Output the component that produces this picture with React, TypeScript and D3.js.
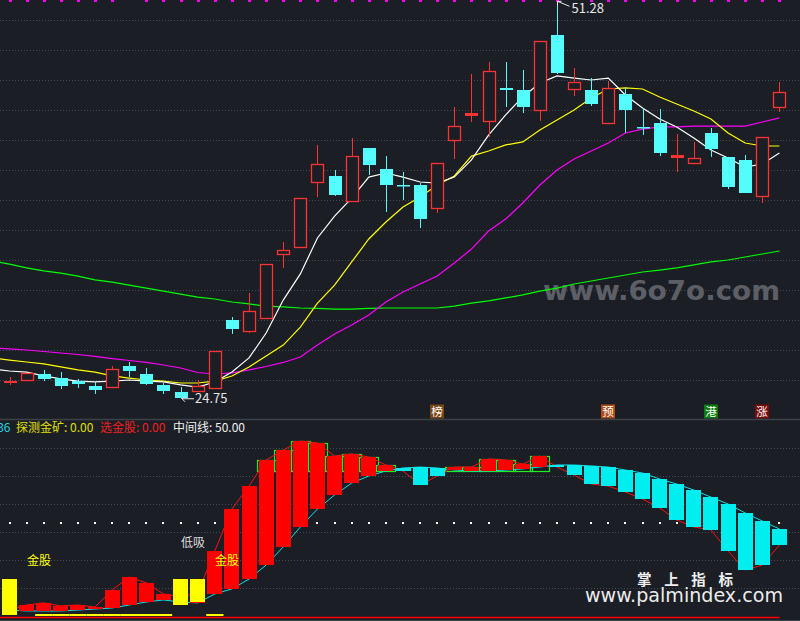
import React from 'react';
import * as d3 from 'd3';

const W = 800;
const H = 621;

// ---- price candles (46 sessions) ----
const opens = [25.88, 26.0, 26.4, 26.13, 25.93, 25.6, 25.53, 26.93, 26.4, 25.67, 25.2, 25.27, 25.47, 30.0, 29.27, 30.13, 34.4, 34.87, 39.2, 39.6, 37.93, 41.47, 40.07, 39.0, 39.0, 37.47, 42.0, 43.67, 43.27, 45.47, 45.33, 44.0, 49.0, 45.4, 45.33, 43.13, 45.07, 42.87, 43.13, 40.87, 40.47, 42.47, 40.87, 40.67, 38.27, 44.2];
const highs = [26.2, 26.47, 26.67, 26.53, 26.07, 25.87, 26.93, 27.2, 26.8, 25.8, 25.53, 26.0, 27.93, 30.2, 31.8, 33.73, 35.2, 38.13, 41.67, 40.0, 42.13, 41.47, 40.93, 39.87, 39.13, 40.47, 44.2, 46.4, 47.2, 47.2, 46.67, 48.6, 51.28, 46.8, 46.13, 45.93, 45.47, 44.13, 44.07, 42.4, 41.87, 42.8, 40.87, 41.0, 42.2, 45.87];
const lows = [25.67, 25.93, 25.93, 25.4, 25.47, 25.07, 25.53, 26.2, 25.67, 25.07, 24.75, 25.2, 25.47, 29.07, 29.13, 30.13, 33.47, 34.87, 38.2, 38.27, 37.93, 39.67, 37.2, 38.0, 36.13, 37.13, 40.73, 43.2, 42.2, 44.2, 43.8, 43.27, 46.4, 44.93, 44.27, 43.13, 42.47, 42.33, 40.93, 39.87, 40.47, 40.87, 38.73, 38.47, 37.8, 43.87];
const closes = [25.92, 26.47, 26.07, 25.6, 25.73, 25.33, 26.73, 26.6, 25.73, 25.27, 24.8, 25.6, 27.93, 29.4, 30.6, 33.73, 34.67, 38.13, 40.4, 38.33, 40.93, 40.33, 39.0, 38.97, 36.73, 40.47, 42.93, 43.8, 46.6, 45.33, 44.2, 48.6, 46.47, 45.87, 44.4, 45.47, 44.0, 42.83, 41.13, 41.0, 40.8, 41.4, 38.87, 38.47, 42.2, 45.2];

// moving averages, first value belongs to the session before index 0
const maWhite = [26.73, 26.6, 26.53, 26.27, 26.07, 25.93, 25.87, 25.93, 26.0, 25.93, 25.87, 25.67, 25.53, 25.87, 26.53, 27.47, 29.13, 31.33, 33.07, 35.47, 36.93, 38.13, 39.53, 39.8, 39.53, 39.2, 39.13, 39.53, 40.67, 42.33, 43.67, 44.87, 45.8, 46.27, 46.13, 46.0, 46.13, 45.0, 44.13, 43.4, 42.87, 42.13, 41.33, 40.8, 40.2, 40.4, 41.13];
const maYellow = [27.47, 27.33, 27.2, 27.07, 26.87, 26.67, 26.53, 26.27, 26.13, 26.0, 25.93, 25.8, 25.8, 25.93, 26.27, 26.87, 27.6, 28.33, 29.53, 31.13, 32.33, 33.87, 35.4, 36.53, 37.53, 38.2, 39.0, 39.6, 40.93, 41.27, 41.67, 41.87, 42.67, 43.33, 44.0, 44.8, 45.4, 45.47, 45.4, 44.87, 44.4, 43.93, 43.4, 42.47, 41.8, 41.6, 41.6];
const maMagenta = [28.13, 28.07, 28.0, 27.9, 27.8, 27.7, 27.57, 27.43, 27.3, 27.17, 27.0, 26.8, 26.5, 26.4, 26.47, 26.67, 26.9, 27.17, 27.53, 28.33, 29.07, 29.67, 30.33, 31.2, 31.87, 32.4, 32.93, 33.8, 34.73, 35.93, 36.73, 37.8, 39.0, 40.0, 40.73, 41.27, 41.8, 42.47, 42.73, 42.87, 42.87, 42.93, 42.93, 42.93, 42.93, 43.2, 43.47];
const maGreen = [33.93, 33.73, 33.47, 33.27, 33.13, 32.93, 32.67, 32.53, 32.33, 32.13, 31.93, 31.73, 31.53, 31.4, 31.2, 31.07, 30.93, 30.87, 30.8, 30.77, 30.73, 30.73, 30.77, 30.8, 30.8, 30.8, 30.8, 30.93, 31.13, 31.27, 31.47, 31.67, 31.93, 32.13, 32.4, 32.6, 32.8, 33.0, 33.2, 33.33, 33.47, 33.67, 33.87, 34.0, 34.2, 34.4, 34.6];

const priceTicks = [26, 28, 30, 32, 34, 36, 38, 40, 42, 44, 46, 48, 50];
const missingTopDots = [7, 33];

// signal tags above the separator
const tagIndex = [25, 35, 41, 44];
const tagText = ['榜', '预', '港', '涨'];
const tagColor = ['#7a4512', '#b04c14', '#0b7a0b', '#7a0c0c'];

// ---- indicator panel ----
const indA = [3.5, 5.9, 7.0, 5.4, 5.9, 4.8, 13.9, 20.9, 17.7, 11.8, 10.2, 12.3, 34.8, 57.3, 69.6, 83.6, 88.9, 93.7, 92.7, 85.7, 86.8, 85.2, 80.9, 77.7, 70.2, 75.0, 79.8, 79.8, 84.1, 83.6, 81.4, 85.7, 79.8, 75.5, 70.7, 69.6, 66.4, 62.7, 57.9, 51.4, 47.7, 46.1, 34.8, 24.6, 27.3, 38.0];
const indB = [3.2, 2.7, 2.7, 2.7, 3.2, 3.75, 4.3, 5.9, 7.5, 8.6, 7.5, 7.0, 11.8, 14.5, 19.8, 27.3, 37.0, 47.7, 57.3, 64.8, 71.2, 75.0, 77.7, 79.3, 79.8, 79.3, 78.2, 77.7, 77.7, 78.2, 78.8, 79.8, 80.9, 80.9, 80.4, 79.8, 78.2, 76.6, 73.4, 70.7, 67.5, 63.7, 60.0, 55.2, 50.9, 46.6];
const goldIndex = [0, 10, 11];
const goldLow = [0.5, 5.9, 7.5];
const goldTop = 20;
const baseSignalIndex = [2, 3, 4, 5, 6, 7, 8, 9, 12];
const indTicks = [15, 30, 45, 60, 75, 90];
const greenLevel = 77.5;
const midLevel = 50;

const BG = '#1b1e25';
const GRID = '#454954';
const RED = '#ff3232';
const CYAN = '#54fcfc';
const CJK = '"Noto Sans CJK SC", "Noto Sans", sans-serif';

export default function App() {
  const x = d3.scaleLinear().domain([0, 45]).range([9.5, 779.4]);
  const yP = d3.scaleLinear().domain([50, 26]).range([20, 380]);
  const yI = d3.scaleLinear().domain([0, 90]).range([616, 448]);

  const maLine = d3
    .line<number>()
    .x((_, i) => x(i - 1))
    .y((d) => yP(d));
  const indLineA = d3
    .line<number>()
    .x((_, i) => x(i))
    .y((d) => yI(d));

  const candles = opens.map((o, i) => {
    const c = closes[i];
    const up = c >= o;
    const cx = Math.round(x(i));
    const top = yP(Math.max(o, c));
    const bot = yP(Math.min(o, c));
    const hy = yP(highs[i]);
    const ly = yP(lows[i]);
    const color = up ? RED : CYAN;
    const h = bot - top;
    if (up) {
      if (h < 2.5) {
        return (
          <g key={i}>
            <line x1={cx + 0.5} x2={cx + 0.5} y1={hy} y2={ly} stroke={color} />
            <rect x={cx - 6} y={Math.round(top)} width={13} height={Math.max(2, Math.round(h) + 1)} fill={color} />
          </g>
        );
      }
      return (
        <g key={i}>
          <line x1={cx + 0.5} x2={cx + 0.5} y1={hy} y2={top} stroke={color} />
          <line x1={cx + 0.5} x2={cx + 0.5} y1={bot} y2={ly} stroke={color} />
          <rect x={cx - 6 + 0.5} y={Math.round(top) + 0.5} width={12} height={Math.round(h)} fill={BG} stroke={color} strokeWidth={1.3} />
        </g>
      );
    }
    return (
      <g key={i}>
        <line x1={cx + 0.5} x2={cx + 0.5} y1={hy} y2={ly} stroke={color} />
        <rect x={cx - 6} y={Math.round(top)} width={13} height={Math.max(1.5, Math.round(h))} fill={color} />
      </g>
    );
  });

  const hiIdx = highs.indexOf(Math.max(...highs));
  const loIdx = lows.indexOf(Math.min(...lows));
  const hx = Math.round(x(hiIdx)) + 0.5;
  const hy = yP(highs[hiIdx]);
  const lx = Math.round(x(loIdx));
  const ly = yP(lows[loIdx]);

  const barW = 15;

  return (
    <div style={{ position: 'absolute', left: 0, top: 0, width: W, height: H }}>
      <svg width={W} height={H} viewBox={`0 0 ${W} ${H}`} style={{ display: 'block' }}>
        <rect x={0} y={0} width={W} height={H} fill={BG} />

        {/* price grid */}
        {priceTicks.map((t) => (
          <line key={t} x1={0} x2={W} y1={Math.round(yP(t)) + 0.5} y2={Math.round(yP(t)) + 0.5} stroke={GRID} strokeDasharray="1 2" />
        ))}

        {/* watermark */}
        <text x={543} y={300} fill="#5c5f66" fontFamily='"DejaVu Sans", sans-serif' fontWeight="bold" fontSize={27} textLength={237} lengthAdjust="spacingAndGlyphs">
          www.6o7o.com
        </text>

        {/* moving averages */}
        <path d={maLine(maGreen) || ''} fill="none" stroke="#00ff00" strokeWidth={1.2} />
        <path d={maLine(maMagenta) || ''} fill="none" stroke="#ff00ff" strokeWidth={1.2} />
        <path d={maLine(maYellow) || ''} fill="none" stroke="#ffff00" strokeWidth={1.2} />
        <path d={maLine(maWhite) || ''} fill="none" stroke="#ffffff" strokeWidth={1.2} />

        {candles}

        {/* top magenta dots */}
        {opens.map((_, i) =>
          missingTopDots.includes(i) ? null : (
            <rect key={'m' + i} x={Math.round(x(i)) - 1} y={0} width={3} height={2} fill="#ff00ff" />
          )
        )}

        {/* high / low labels */}
        <path d={`M${hx},${hy + 0.5} L${hx + 12},${hy + 5.5} M${hx},${hy + 0.5} L${hx + 4},${hy + 0.5} M${hx},${hy + 0.5} L${hx},${hy + 4.5}`} stroke="#e8e8e8" fill="none" strokeWidth={1} />
        <text x={hx + 14} y={12.5} fill="#e6e6e6" fontFamily={CJK} fontSize={13}>
          {highs[hiIdx].toFixed(2)}
        </text>
        <path d={`M${lx + 1},${ly} L${lx + 13},${ly} M${lx + 1},${ly} L${lx + 4},${ly - 3} M${lx + 1},${ly} L${lx + 4},${ly + 3}`} stroke="#e8e8e8" fill="none" strokeWidth={1} />
        <text x={lx + 14} y={ly + 4.5} fill="#e6e6e6" fontFamily={CJK} fontSize={13}>
          {lows[loIdx].toFixed(2)}
        </text>

        {/* tags */}
        {tagIndex.map((ti, k) => {
          const cx = Math.round(x(ti));
          return (
            <g key={'t' + k}>
              <rect x={cx - 7} y={404.5} width={14} height={14} fill={tagColor[k]} />
              <text x={cx} y={415.5} textAnchor="middle" fill="#ffffff" fontFamily={CJK} fontSize={11.5}>
                {tagText[k]}
              </text>
            </g>
          );
        })}

        {/* separator */}
        <line x1={0} x2={W} y1={419.5} y2={419.5} stroke="#3d414a" strokeWidth={1.5} />

        {/* indicator legend */}
        <text y={432} fontFamily={CJK} fontSize={12}>
          <tspan x={10.5} textAnchor="end" fill="#22d4e0">36</tspan>
        </text>
        <text x={16} y={432} fontFamily={CJK} fontSize={12} fill="#e0e000">探测金矿: 0.00</text>
        <text x={100} y={432} fontFamily={CJK} fontSize={12} fill="#f02020">选金股: 0.00</text>
        <text x={173} y={432} fontFamily={CJK} fontSize={12} fill="#f0f0f0">中间线: 50.00</text>

        {/* indicator grid */}
        {indTicks.map((t) => (
          <line key={'g' + t} x1={0} x2={W} y1={Math.round(yI(t)) + 0.5} y2={Math.round(yI(t)) + 0.5} stroke={GRID} strokeDasharray="1 2" />
        ))}
        {indA.map((_, i) => (
          <rect key={'d' + i} x={Math.round(x(i)) - 1} y={Math.round(yI(midLevel)) - 1} width={2} height={2} fill="#ffffff" />
        ))}

        {/* green frames above the level */}
        {indA.map((a, i) => {
          const b = indB[i];
          if (!(a > b && a > greenLevel)) return null;
          const cx = x(i);
          return (
            <rect key={'gf' + i} x={Math.round(cx - 9.5) + 0.5} y={Math.round(yI(a)) + 0.5} width={19} height={Math.round(yI(greenLevel) - yI(a))} fill="none" stroke="#22ee22" strokeWidth={1.2} />
          );
        })}

        {/* thin lines */}
        <path d={indLineA(indA) || ''} fill="none" stroke="#ff1010" strokeWidth={1} />
        <path d={indLineA(indB) || ''} fill="none" stroke="#10e0e8" strokeWidth={1} />

        {/* bars */}
        {indA.map((a, i) => {
          const b = indB[i];
          const top = yI(Math.max(a, b));
          const bot = yI(Math.min(a, b));
          return (
            <rect key={'b' + i} x={Math.round(x(i) - barW / 2)} y={Math.round(top)} width={barW} height={Math.max(1.5, Math.round(bot - top))} fill={a >= b ? '#ff0000' : '#00eef0'} />
          );
        })}

        {/* gold bars */}
        {goldIndex.map((gi, k) => (
          <rect key={'y' + k} x={Math.round(x(gi) - barW / 2)} y={Math.round(yI(goldTop))} width={barW} height={Math.round(yI(goldLow[k]) - yI(goldTop))} fill="#ffff00" />
        ))}

        {/* baseline signals */}
        {baseSignalIndex.map((si) => (
          <rect key={'s' + si} x={x(si) - 8.55} y={yI(0) - 2} width={17.2} height={2} fill="#ffff00" />
        ))}
        <line x1={0} x2={x(45)} y1={yI(0) + 1.5} y2={yI(0) + 1.5} stroke="#ff0000" strokeWidth={1.5} />

        {/* annotations */}
        <text x={27} y={565} fill="#ffff00" fontFamily={CJK} fontSize={12}>金股</text>
        <text x={215} y={565} fill="#ffff00" fontFamily={CJK} fontSize={12}>金股</text>
        <text x={181} y={547} fill="#dcdcdc" fontFamily={CJK} fontSize={12}>低吸</text>

        {/* bottom border */}
        <line x1={0} x2={W} y1={620.5} y2={620.5} stroke="#3d414a" strokeWidth={1} />

        {/* watermark */}
        <text x={685} y={584.5} textAnchor="middle" fill="#f0f0f0" fontFamily={CJK} fontWeight="bold" fontSize={14.5} textLength={96} lengthAdjust="spacing">
          掌上指标
        </text>
        <text x={585} y={602} fill="#ececec" fontFamily='"DejaVu Sans", sans-serif' fontSize={19} textLength={198} lengthAdjust="spacingAndGlyphs">
          www.palmindex.com
        </text>
      </svg>
    </div>
  );
}
